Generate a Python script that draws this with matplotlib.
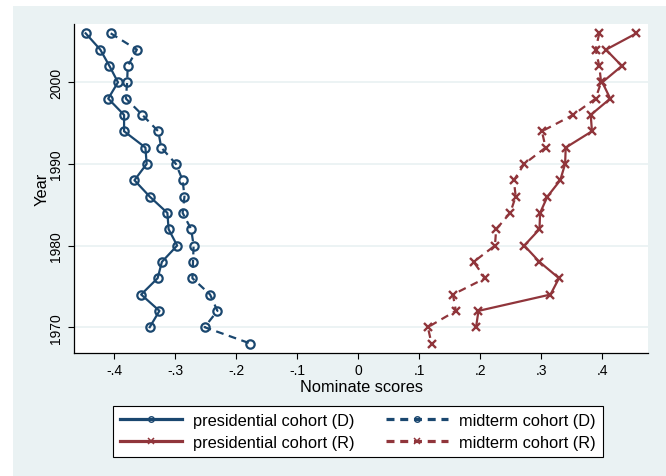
import matplotlib
matplotlib.use("Agg")
import matplotlib.pyplot as plt
import matplotlib.patches as patches
from matplotlib.lines import Line2D

plt.rcParams['font.family'] = ['Liberation Sans', 'DejaVu Sans']

NAVY = '#1a476f'
MAROON = '#90353b'
BG = '#eaf2f3'

# cohort years (top to bottom)
years_pres = [2006, 2004, 2002, 2000, 1998, 1996, 1994, 1992, 1990, 1988,
              1986, 1984, 1982, 1980, 1978, 1976, 1974, 1972, 1970]
years_mid = years_pres + [1968]

pres_d = [-0.447, -0.423, -0.408, -0.394, -0.410, -0.384, -0.384, -0.349, -0.347, -0.367,
          -0.342, -0.313, -0.311, -0.297, -0.322, -0.329, -0.356, -0.326, -0.342]
mid_d = [-0.406, -0.363, -0.378, -0.379, -0.381, -0.354, -0.328, -0.323, -0.299, -0.288,
         -0.285, -0.288, -0.274, -0.270, -0.271, -0.272, -0.243, -0.231, -0.252, -0.177]
pres_r = [0.456, 0.406, 0.432, 0.400, 0.413, 0.381, 0.383, 0.340, 0.339, 0.331,
          0.310, 0.298, 0.297, 0.272, 0.297, 0.329, 0.315, 0.197, 0.193]
mid_r = [0.395, 0.389, 0.395, 0.398, 0.389, 0.352, 0.301, 0.307, 0.272, 0.255,
         0.258, 0.249, 0.226, 0.224, 0.189, 0.208, 0.155, 0.160, 0.114, 0.120]

xticks = [-0.4, -0.3, -0.2, -0.1, 0, 0.1, 0.2, 0.3, 0.4]
xticklabels = ['-.4', '-.3', '-.2', '-.1', '0', '.1', '.2', '.3', '.4']
yticks = [1970, 1980, 1990, 2000]

labels = ['presidential cohort (D)', 'presidential cohort (R)',
          'midterm cohort (D)', 'midterm cohort (R)']

W, H = 666, 477
fig = plt.figure(figsize=(W / 100, H / 100), dpi=100)
fig.patch.set_facecolor('white')

# light Stata-style background
bg = patches.Rectangle((13 / W, 0), 1 - 13 / W, 1 - 7 / H, transform=fig.transFigure,
                       fc=BG, ec='none', zorder=-1)
fig.add_artist(bg)

left, right, top, bottom = 74.3, 647.7, 24.5, 353.5
ax = fig.add_axes([left / W, 1 - bottom / H, (right - left) / W, (bottom - top) / H])
ax.set_facecolor('white')

dash = (0, (3.5, 2.5))
lw = 1.6
ax.plot(pres_d, years_pres, color=NAVY, lw=lw, marker='o', ms=6, mfc='none', mew=1.6,
        clip_on=False, zorder=3)
ax.plot(mid_d, years_mid, color=NAVY, lw=lw, ls=dash, marker='o', ms=6, mfc='none',
        mew=1.6, clip_on=False, zorder=3)
ax.plot(pres_r, years_pres, color=MAROON, lw=lw, marker='x', ms=6, mew=1.7,
        clip_on=False, zorder=3)
ax.plot(mid_r, years_mid, color=MAROON, lw=lw, ls=dash, marker='x', ms=6, mew=1.7,
        clip_on=False, zorder=3)

ax.set_xlim(-0.4656, 0.4744)
ax.set_ylim(1966.9, 2007.2)

ax.set_xticks(xticks)
ax.set_xticklabels(xticklabels)
ax.set_yticks(yticks)
ax.set_yticklabels([str(y) for y in yticks], rotation=90, va='center')
ax.tick_params(axis='both', length=4.3, width=0.8, pad=3.5, labelsize=10, colors='black')

ax.grid(axis='y', color=BG, lw=1.3, zorder=0)
ax.set_axisbelow(True)
for s in ['top', 'right']:
    ax.spines[s].set_visible(False)
for s in ['left', 'bottom']:
    ax.spines[s].set_linewidth(0.9)

ax.set_xlabel('Nominate scores', fontsize=11.8, va='center')
ax.set_ylabel('Year', fontsize=11.8, va='center')
ax.xaxis.set_label_coords(0.5, -0.103)
ax.yaxis.set_label_coords(-0.057, 0.5)

# legend with thicker keys and small markers, like the original
handles = [
    Line2D([], [], color=NAVY, lw=2.3, marker='o', ms=4, mfc='none', mew=1.0),
    Line2D([], [], color=MAROON, lw=2.3, marker='x', ms=4.5, mew=1.1),
    Line2D([], [], color=NAVY, lw=2.3, ls=(0, (2.5, 1.8)), marker='o', ms=4, mfc='none', mew=1.0),
    Line2D([], [], color=MAROON, lw=2.3, ls=(0, (2.5, 1.8)), marker='x', ms=4.5, mew=1.1),
]
leg = fig.legend(handles, labels, loc='center', bbox_to_anchor=(357.7 / W, 1 - 432.5 / H),
                 ncol=2, fontsize=11.8, frameon=True, fancybox=False, edgecolor='black',
                 facecolor='white', framealpha=1, numpoints=1, handlelength=3.8,
                 handletextpad=0.65, columnspacing=1.95, labelspacing=0.42, borderpad=0.42)
leg.get_frame().set_linewidth(0.8)

fig.savefig('out.png', dpi=100, facecolor=fig.get_facecolor())
